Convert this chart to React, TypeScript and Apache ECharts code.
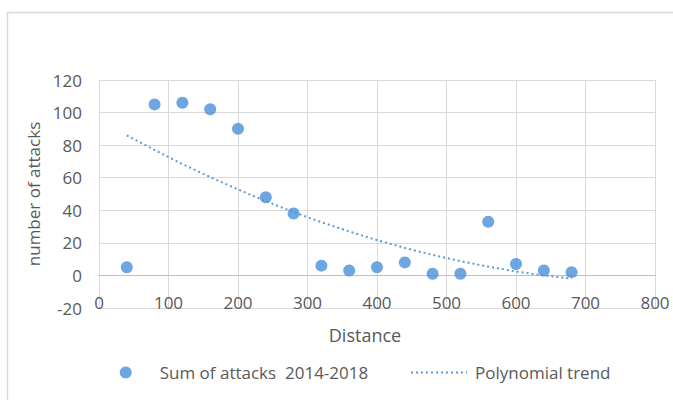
import React, { useEffect, useRef } from "react";
import * as echarts from "echarts";

const distances = [40, 80, 120, 160, 200, 240, 280, 320, 360, 400, 440, 480, 520, 560, 600, 640, 680];
const attacks = [5, 105, 106, 102, 90, 48, 38, 6, 3, 5, 8, 1, 1, 33, 7, 3, 2];
const trendValues = [86, 77, 68.4, 60.4, 52.8, 45.6, 38.9, 32.7, 27, 21.7, 16.9, 12.6, 8.8, 5.4, 2.4, 0, -2];
const seriesNames = ["Sum of attacks  2014-2018", "Polynomial trend"];
const xTitle = "Distance";
const yTitle = "number of attacks";

const FONT = "'Open Sans', sans-serif";
const GRAY = "#595959";
const BLUE = "#4A90D9";
const TREND = "#5B9BD5";

export default function App() {
  const ref = useRef<HTMLDivElement>(null);
  useEffect(() => {
    document.body.style.margin = "0";
    if (!ref.current) return;
    const chart = echarts.init(ref.current, null, { renderer: "svg" });
    chart.setOption({
      animation: false,
      backgroundColor: "#ffffff",
      textStyle: { fontFamily: FONT },
      grid: { left: 99, right: 18, top: 80, bottom: 92, containLabel: false },
      xAxis: {
        type: "value",
        min: 0,
        max: 800,
        interval: 100,
        position: "bottom",
        offset: -32.5,
        axisLine: { show: true, onZero: false, lineStyle: { color: "#bfbfbf", width: 1 } },
        axisTick: { show: false },
        axisLabel: { color: GRAY, fontSize: 17, fontFamily: FONT, margin: 18 },
        splitLine: { show: true, lineStyle: { color: "#d9d9d9", width: 1 } },
      },
      yAxis: {
        type: "value",
        min: -20,
        max: 120,
        interval: 20,
        name: yTitle,
        nameLocation: "middle",
        nameGap: 44,
        nameTextStyle: { color: GRAY, fontSize: 17, fontFamily: FONT },
        axisLine: { show: false },
        axisTick: { show: false },
        axisLabel: { color: GRAY, fontSize: 17, fontFamily: FONT, margin: 17 },
        splitLine: { show: true, lineStyle: { color: "#d9d9d9", width: 1 } },
      },
      legend: [
        {
          data: [seriesNames[0]],
          left: 119.7,
          top: 364,
          padding: 0,
          itemWidth: 12,
          itemHeight: 12,
          icon: "circle",
          textStyle: { color: GRAY, fontSize: 17, fontFamily: FONT, padding: [0, 0, 0, 23] },
        },
        {
          data: [seriesNames[1]],
          left: 410,
          top: 364,
          padding: 0,
          itemWidth: 56,
          itemHeight: 12,
          itemStyle: { opacity: 0 },
          textStyle: { color: GRAY, fontSize: 17, fontFamily: FONT, padding: [0, 0, 0, 3] },
        },
      ],
      graphic: [
        {
          type: "rect",
          z: -10,
          shape: { x: 7.5, y: 12.5, width: 700, height: 420 },
          style: { fill: "none", stroke: "#d9d9d9", lineWidth: 1.5 },
          silent: true,
        },
        {
          type: "text",
          x: 365,
          y: 335,
          style: {
            text: xTitle,
            fill: GRAY,
            fontSize: 18,
            fontFamily: FONT,
            textAlign: "center",
            textVerticalAlign: "middle",
          },
          silent: true,
        },
      ],
      series: [
        {
          name: seriesNames[0],
          type: "scatter",
          symbol: "circle",
          symbolSize: 12,
          itemStyle: { color: BLUE },
          data: distances.map((d, i) => [d, attacks[i]]),
          z: 3,
        },
        {
          name: seriesNames[1],
          type: "line",
          symbol: "none",
          showSymbol: false,
          lineStyle: { color: TREND, width: 2, type: [2, 3], cap: "butt" },
          itemStyle: { color: TREND },
          data: distances.map((d, i) => [d, trendValues[i]]),
          z: 2,
        },
      ],
    });
    return () => chart.dispose();
  }, []);
  return <div ref={ref} style={{ width: 673, height: 400 }} />;
}
